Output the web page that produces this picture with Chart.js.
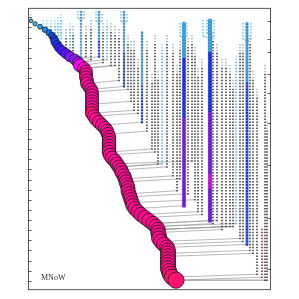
<!DOCTYPE html>
<html><head><meta charset="utf-8">
<script src="https://cdn.jsdelivr.net/npm/chart.js@4.4.1/dist/chart.umd.min.js"></script>
<style>html,body{margin:0;padding:0;background:#fff}canvas{display:block}</style>
</head><body>
<canvas id="c" width="299" height="299"></canvas>
<script>
// ---- main progenitor branch: snapshot, tree position, mass, colour property ----
const mainSnap = [4,5,6,7,8,9,10,11,12,13,14,15,16,17,18,19,20,21,22,23,24,25,26,27,28,29,30,31,32,33,34,35,36,37,38,39,40,41,42,43,44,45,46,47,48,49,50,51,52,53,54,55,56,57,58,59,60,61,62,63,64,65,66,67,68,69,70,71,72,73,74,75,76,77,78,79,80,81,82,83,84,85,86,87,88,89,90,91];
const mainPos = [3,7,12,17,21,24,26,27,29,31,34,38,42,47,50,52,56,58,58,58,59,59,61,63,64,64,64,64,64,64,64,64,66,68,71,74,77,79,80,81,81,81,81,81,81,82,84,87,89,91,93,94,96,97,98,99,100,100,101,102,103,104,105,107,110,113,117,121,125,128,130,130,131,131,133,136,139,140,140,140,140,140,140,140,141,142,144,148];
const mainMass = [0.7,1.2,1.8,2.6,3.8,5,6.5,8.5,10,11.5,13.5,16,18,20,23,34,34,34,34,34,34,34,34,34,34,34,34,35,35,35,36,36,36,37,37,37,38,38,38,38,39,39,39,40,40,40,40,41,41,41,42,42,42,42,43,43,43,43,44,44,44,44,45,45,45,46,46,47,47,48,48,50,50,51,51,52,52,53,53,54,54,55,55,56,57,58,62,66];
const mainProp = [0.02,0.05,0.1,0.15,0.2,0.24,0.27,0.29,0.31,0.35,0.4,0.45,0.5,0.53,0.58,0.7,0.76,0.82,0.82,0.82,0.82,0.82,0.82,0.82,0.82,0.82,0.82,0.82,0.82,0.82,0.83,0.93,0.84,0.84,0.84,0.84,0.84,0.84,0.84,0.84,0.84,0.84,0.84,0.84,0.84,0.84,0.84,0.84,0.84,0.84,0.84,0.84,0.84,0.84,0.84,0.84,0.84,0.84,0.84,0.84,0.84,0.84,0.84,0.85,0.85,0.85,0.85,0.85,0.85,0.85,0.85,0.85,0.85,0.85,0.85,0.85,0.85,0.87,0.87,0.87,0.87,0.87,0.87,0.87,0.88,0.88,0.9,0.9];

// ---- minor branches merging into the main branch ----
const branchPos   = [3,15,19,23,27,30,33,38,42,45,58,63,75,79,83,87,91,100,103,106,110,119,124,127,130,134,139,145,149,152,160,164,167,170,174,185,189,194,198,202,205,208,212,215,222,225,229,234,237,239];
const branchFirst = [2,4,4,4,4,3,2,7,5,6,6,4,5,4,5,6,7,9,11,11,17,11,22,9,21,12,9,12,19,11,10,9,13,20,17,8,12,17,17,19,24,16,12,12,9,21,27,74,19,38];
const branchLast  = [3,6,7,9,10,12,14,14,15,16,16,17,18,17,19,19,24,27,31,34,35,41,47,48,52,52,53,56,61,57,62,51,64,68,69,72,71,74,73,73,73,72,77,78,81,82,89,90,91,91];
const branchKind  = ['c','c','c','c','c','c','c','d','c','d','d','d','d','c','d','d','d','d','d','d','d','d','d','d','d','c','d','d','d','d','d','d','d','d','d','d','d','d','d','d','d','c','d','d','d','d','d','r','d','d'];

// ---- massive secondary branches (coloured), as segments ----
const colPos  = [53,71,96,114,156,182,219];
const colMass = [1,1.5,1.5,1.5,7,9,3];
const segBranch = [0,1,1,2,2,2,3,3,4,4,4,5,5,5,5,5,6,6];
const segFirst  = [1,1,11,1,15,26,8,26,5,17,37,4,15,35,56,61,5,25];
const segLast   = [17,10,16,14,25,26,25,38,16,36,66,14,34,55,60,71,24,79];
const segProp   = [0.06,0.06,0.28,0.06,0.28,0.3,0.1,0.26,0.08,0.3,0.5,0.08,0.3,0.5,0.66,0.5,0.1,0.27];

// ---- small forks at the top of the coloured branches ----
const forkPos   = [50,56,68,74,93,99,152,159,175,179,186,215,223];
const forkFirst = [1,1,1,2,1,2,5,5,4,4,4,5,5];
const forkLast  = [3,3,4,4,4,4,9,9,9,8,9,10,10];
const forkHost  = [0,0,1,1,2,2,4,4,5,5,5,6,6];

// ---- axis ticks (snapshot units) ----
const leftTickStart = 2.83, leftTickStep = 3.4;
const rightTicks = [4,10,14.3,21.7,28.3,38.3,52.3,70,87.3];
const label = 'MNoW';

const stops = [[0,[70,210,255]],[0.12,[30,160,255]],[0.25,[10,80,255]],[0.35,[42,28,255]],[0.45,[96,16,255]],[0.55,[154,30,240]],[0.7,[255,0,255]],[0.8,[255,10,165]],[0.85,[255,10,140]],[0.9,[255,18,112]],[1,[255,32,64]]];
function cmap(p){
  for(let i=1;i<stops.length;i++){
    if(p<=stops[i][0]){
      const a=stops[i-1],b=stops[i],t=(p-a[0])/(b[0]-a[0]);
      const c=a[1].map((v,k)=>Math.round(v+(b[1][k]-v)*t));
      return 'rgb('+c.join(',')+')';
    }
  }
  return 'rgb(255,32,64)';
}
function mainXAt(s){ const i=mainSnap.indexOf(Math.min(Math.max(s,mainSnap[0]),mainSnap[mainSnap.length-1])); return {x:mainPos[i],y:mainSnap[i]}; }

const datasets=[];
datasets.push({type:'bubble',order:0,
  data: mainSnap.map((s,i)=>({x:mainPos[i],y:s,r:2*Math.cbrt(mainMass[i])})),
  backgroundColor: mainProp.map(cmap), borderColor:'#1a1a1a', borderWidth:0.8, hoverRadius:0});
const colData=[],colCols=[],colRad=[];
segBranch.forEach((b,k)=>{ for(let s=segFirst[k];s<=segLast[k];s++){ colData.push({x:colPos[b],y:s}); colCols.push(cmap(segProp[k])); colRad.push(1.2*Math.cbrt(colMass[b])); } });
datasets.push({type:'scatter',order:1,data:colData,pointStyle:'rect',pointRadius:colRad,pointBackgroundColor:colCols,pointBorderColor:'rgba(0,0,60,0.5)',pointBorderWidth:0.4});
const dotData=[],dotCols=[];
branchPos.forEach((x,k)=>{ for(let s=branchFirst[k];s<=branchLast[k];s++){ dotData.push({x,y:s}); const j=s-branchFirst[k];
  let c = branchKind[k]==='c' ? (j<2?'#9adcf0':'#3cb0e0') : branchKind[k]==='r' ? '#8a1030' : (j<3?'#a8b0b4':'#333');
  dotCols.push(c);} });
forkPos.forEach((x,k)=>{ for(let s=forkFirst[k];s<=forkLast[k];s++){ dotData.push({x,y:s}); dotCols.push('#6cc8ec'); } });
datasets.push({type:'scatter',order:2,data:dotData,pointStyle:'rect',pointRadius:1.05,pointBackgroundColor:dotCols,pointBorderWidth:0});
function link(x0,s0,p1){ datasets.push({type:'scatter',order:3,showLine:true,data:[{x:x0,y:s0},p1],borderColor:'#999',borderWidth:0.7,pointRadius:0}); }
branchPos.forEach((x,k)=>link(x,branchLast[k],mainXAt(branchLast[k]+1)));
colPos.forEach((x,b)=>{ let last=0; segBranch.forEach((bb,k)=>{ if(bb===b) last=Math.max(last,segLast[k]); }); link(x,last,mainXAt(last+1)); });
forkPos.forEach((x,k)=>link(x,forkLast[k],{x:colPos[forkHost[k]],y:forkLast[k]+1}));

const frame={id:'frame',afterDraw(chart){
  const ctx=chart.ctx,a=chart.chartArea,ys=chart.scales.y;
  ctx.save();
  ctx.strokeStyle='#555';ctx.lineWidth=1;
  ctx.strokeRect(a.left+0.5,a.top-0.5,a.right-a.left,a.bottom-a.top);
  ctx.beginPath();
  for(let v=leftTickStart; v<=ys.max; v+=leftTickStep){ const y=Math.round(ys.getPixelForValue(v))+0.5; ctx.moveTo(a.left,y); ctx.lineTo(a.left+3.5,y); }
  rightTicks.forEach(v=>{ const y=Math.round(ys.getPixelForValue(v))+0.5; ctx.moveTo(a.right+1,y); ctx.lineTo(a.right-2.5,y); });
  ctx.stroke();
  ctx.fillStyle='#333';ctx.font='8px "Liberation Serif", "DejaVu Serif", serif';ctx.textBaseline='alphabetic';
  ctx.fillText(label,a.left+13,a.bottom-10);
  ctx.restore();
}};

new Chart(document.getElementById('c'),{
  type:'scatter',
  data:{datasets},
  options:{responsive:false,animation:false,events:[],devicePixelRatio:1,
    layout:{padding:{left:28,top:8,right:29,bottom:8}},
    plugins:{legend:{display:false},tooltip:{enabled:false}},
    scales:{x:{type:'linear',min:0,max:242,display:false},
            y:{type:'linear',min:0,max:94.33,reverse:true,display:false}}},
  plugins:[frame]
});
</script>
</body></html>
